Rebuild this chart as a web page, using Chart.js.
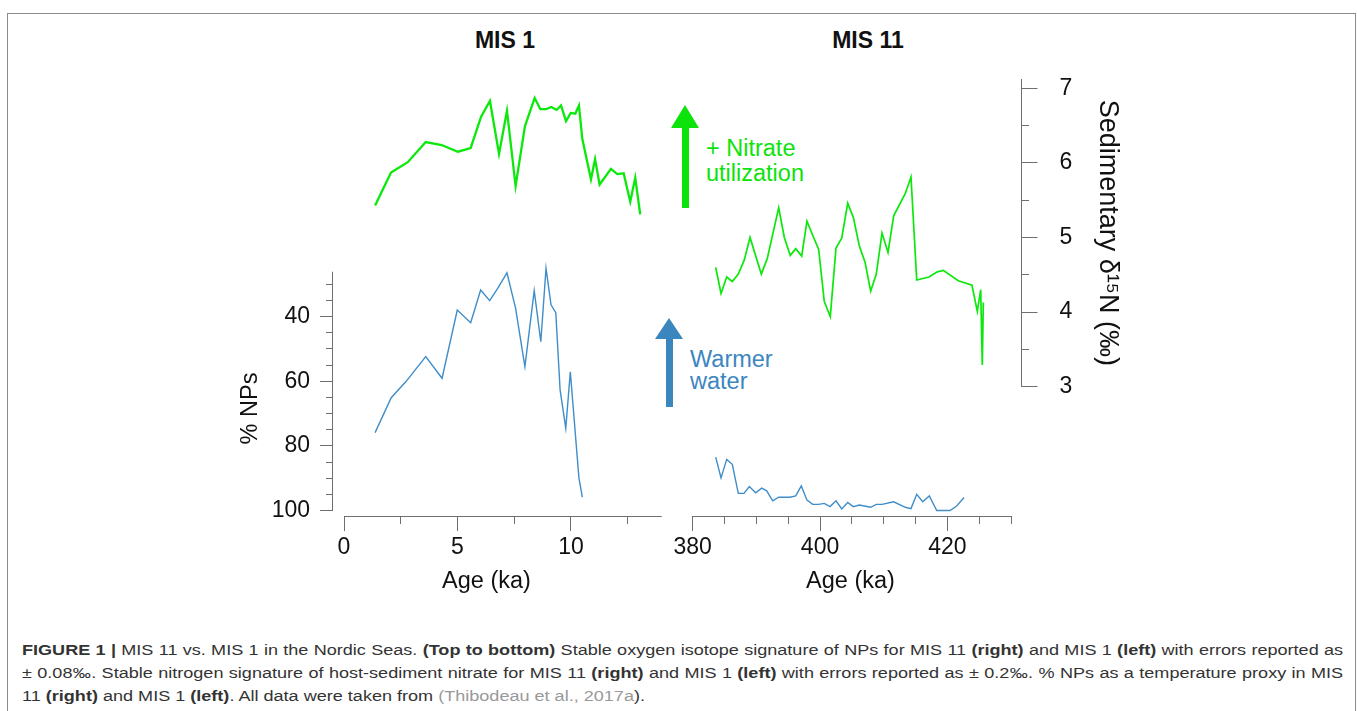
<!DOCTYPE html>
<html lang="en">
<head>
<meta charset="UTF-8">
<title>MIS 11 vs. MIS 1 in the Nordic Seas</title>
<script src="https://cdn.jsdelivr.net/npm/chart.js"></script>
<style>
  body { margin: 0; background: #fff; font-family: "Liberation Sans", Arial, Helvetica, sans-serif; color: #111; }
  #figure { position: relative; width: 1357px; height: 711px; overflow: hidden; }
  #frame { position: absolute; left: 7px; top: 13px; width: 1349px; height: 740px; border: 1px solid #8c8c8c; box-sizing: border-box; }
  canvas { position: absolute; }
  #leftChart { left: 200px; top: 60px; }
  #rightChart { left: 660px; top: 60px; }
  .panel-title { position: absolute; top: 27px; font-weight: bold; font-size: 23px; line-height: 27px; transform: translateX(-50%); white-space: nowrap; }
  .note { position: absolute; font-size: 23.5px; white-space: nowrap; }
  .head { position: absolute; width: 0; height: 0; border-style: solid; border-color: transparent; }
  .shaft { position: absolute; }
  #caption { position: absolute; left: 22px; top: 638px; width: 1134px; font-size: 15.5px; line-height: 23px; color: #333;
             transform: scaleX(1.165); transform-origin: 0 0; }
  #caption div.full { text-align: justify; text-align-last: justify; }
  #caption .ref { color: #999; }
</style>
</head>
<body>
<div id="figure">
  <div id="frame"></div>
  <div class="panel-title" style="left:505px">MIS 1</div>
  <div class="panel-title" style="left:868px">MIS 11</div>

  <!-- green arrow -->
  <div class="head" style="left:671px; top:105px; border-width:0 14px 23px 14px; border-bottom-color:#0be30b"></div>
  <div class="shaft" style="left:681.5px; top:127px; width:7px; height:81px; background:#0be30b"></div>
  <div class="note" style="left:706px; top:136px; line-height:25px; color:#0be30b">+ Nitrate<br>utilization</div>

  <!-- blue arrow -->
  <div class="head" style="left:655px; top:318px; border-width:0 14px 21px 14px; border-bottom-color:#3c86bf"></div>
  <div class="shaft" style="left:665.5px; top:338px; width:7px; height:69px; background:#3c86bf"></div>
  <div class="note" style="left:690px; top:347.5px; line-height:22px; color:#3c86bf">Warmer<br>water</div>

  <canvas id="leftChart" width="470" height="540"></canvas>
  <canvas id="rightChart" width="480" height="540"></canvas>

  <div id="caption">
    <div class="full"><b>FIGURE 1 |</b> MIS 11 vs. MIS 1 in the Nordic Seas. <b>(Top to bottom)</b> Stable oxygen isotope signature of NPs for MIS 11 <b>(right)</b> and MIS 1 <b>(left)</b> with errors reported as</div>
    <div class="full">± 0.08‰. Stable nitrogen signature of host-sediment nitrate for MIS 11 <b>(right)</b> and MIS 1 <b>(left)</b> with errors reported as ± 0.2‰. % NPs as a temperature proxy in MIS</div>
    <div>11 <b>(right)</b> and MIS 1 <b>(left)</b>. All data were taken from <span class="ref">(Thibodeau et al., 2017a</span>).</div>
  </div>
</div>

<script>
  // MIS 1 (left panel), age in ka
  const mis1NAge = [1.37, 2.07, 2.81, 3.60, 4.30, 5.02, 5.58, 6.04, 6.43, 6.83, 7.18, 7.56, 7.97, 8.40, 8.65, 8.90, 9.13, 9.37, 9.56, 9.78, 9.99, 10.19, 10.35, 10.50, 10.88, 11.06, 11.26, 11.76, 12.04, 12.32, 12.61, 12.83, 13.05];
  const mis1N = [5.43, 5.87, 6.01, 6.28, 6.24, 6.15, 6.20, 6.62, 6.83, 6.12, 6.70, 5.69, 6.49, 6.87, 6.72, 6.72, 6.75, 6.71, 6.77, 6.56, 6.67, 6.66, 6.77, 6.32, 5.78, 6.05, 5.71, 5.92, 5.85, 5.86, 5.48, 5.80, 5.31];
  const mis1NpAge = [1.37, 2.08, 2.72, 3.60, 4.32, 4.99, 5.58, 6.02, 6.42, 6.77, 7.18, 7.56, 7.97, 8.38, 8.67, 8.90, 9.12, 9.33, 9.52, 9.77, 9.97, 10.35, 10.50];
  const mis1Np = [75.9, 65.1, 60.2, 52.4, 59.1, 38.0, 41.9, 31.8, 35.1, 31.3, 26.5, 37.5, 55.5, 32.0, 47.8, 25.1, 36.4, 38.8, 62.7, 74.6, 57.1, 90.0, 95.9];

  // MIS 11 (right panel)
  const mis11NAge = [383.61, 384.45, 385.34, 386.22, 387.16, 388.11, 389.00, 390.78, 391.72, 393.51, 394.39, 395.33, 396.18, 397.12, 397.95, 398.85, 399.79, 400.67, 401.61, 402.51, 403.41, 404.35, 405.23, 406.17, 407.07, 407.96, 408.84, 409.74, 410.68, 411.57, 413.40, 414.29, 415.19, 417.12, 418.42, 419.37, 421.72, 423.87, 424.71, 425.24, 425.49, 425.65];
  const mis11N = [4.60, 4.25, 4.47, 4.41, 4.51, 4.70, 5.00, 4.51, 4.72, 5.40, 5.00, 4.76, 4.85, 4.75, 5.22, 5.03, 4.84, 4.14, 3.94, 4.86, 4.99, 5.46, 5.27, 4.89, 4.67, 4.28, 4.51, 5.06, 4.80, 5.29, 5.59, 5.81, 4.43, 4.47, 4.54, 4.56, 4.42, 4.36, 4.01, 4.30, 3.29, 4.13];
  const mis11NpAge = [383.61, 384.45, 385.34, 386.22, 387.16, 388.06, 388.89, 389.90, 390.84, 391.62, 392.57, 393.51, 395.28, 396.18, 397.06, 397.95, 398.85, 399.79, 400.67, 401.57, 402.51, 403.41, 404.35, 405.23, 406.17, 407.96, 408.84, 409.74, 411.57, 413.40, 414.29, 415.19, 416.13, 417.17, 418.33, 420.42, 421.47, 422.62];
  const mis11Np = [83.5, 89.9, 84.2, 85.7, 94.7, 94.7, 92.6, 94.5, 93.1, 93.9, 97.0, 95.9, 95.9, 95.5, 92.4, 96.8, 98.1, 98.1, 97.8, 98.8, 97.0, 99.5, 97.5, 98.8, 98.3, 99.0, 98.1, 98.1, 97.3, 99.0, 99.4, 95.0, 97.3, 95.5, 100, 100, 98.6, 96.0];

  // tick marks (labels only on some of them)
  const ageTicksMis1 = [0, 2.5, 5, 7.5, 10, 12.5];
  const ageTicksMis11 = [380, 385, 390, 395, 400, 405, 410, 415, 420, 425, 430];
  const npTicks = [30, 35, 40, 45, 50, 55, 60, 65, 70, 75, 80, 85, 90, 95, 100];
  const d15nTicks = [3, 3.5, 4, 4.5, 5, 5.5, 6, 6.5, 7];

  const GREEN = '#0be80b';
  const BLUE = '#3f8dc9';
  const AXIS = '#6f6f6f';
  const FONT = '"Liberation Sans", Arial, Helvetica, sans-serif';

  Chart.defaults.font.family = FONT;
  Chart.defaults.color = '#111';

  const pts = (xs, ys) => xs.map((x, i) => ({x: x, y: ys[i]}));
  const setTicks = list => scale => { scale.ticks = list.map(v => ({value: v})); };
  // fixed box size, and no extra room asked for the end labels
  const fixWidth = w => s => { s.width = w; s.paddingTop = 0; s.paddingBottom = 0; };

  // axis lines drawn over a value range only (floating axes)
  const axisLines = {
    id: 'axisLines',
    afterDraw(chart, args, opts) {
      const ctx = chart.ctx;
      ctx.save();
      ctx.strokeStyle = AXIS;
      ctx.lineWidth = 1;
      opts.lines.forEach(l => {
        const s = chart.scales[l.scale];
        const a = s.getPixelForValue(l.from);
        const b = s.getPixelForValue(l.to);
        ctx.beginPath();
        if (s.isHorizontal()) {
          const y = Math.round(s.top) + 0.5;
          ctx.moveTo(a, y); ctx.lineTo(b, y);
        } else {
          const x = s.position === 'left' ? Math.round(s.right) - 0.5 : Math.round(s.left) + 0.5;
          ctx.moveTo(x, a); ctx.lineTo(x, b);
        }
        ctx.stroke();
      });
      ctx.restore();
    }
  };

  function ageAxis(min, max, list, major, labelEvery) {
    return {
      type: 'linear', position: 'bottom', min: min, max: max,
      afterBuildTicks: setTicks(list),
      afterFit: s => { s.height = 84; s.paddingLeft = 0; s.paddingRight = 0; },
      border: {display: false},
      grid: {
        drawOnChartArea: false, tickLength: 15, color: AXIS, tickColor: AXIS,
        tickBorderDash: c => (c.tick && c.tick.value % major === 0) ? [] : [8, 100]
      },
      ticks: {
        autoSkip: false, maxRotation: 0, padding: 3, font: {size: 23},
        callback: v => v % labelEvery === 0 ? String(v) : ''
      },
      title: {display: true, text: 'Age (ka)', font: {size: 23.5}, padding: {top: 0, bottom: 4}}
    };
  }

  const lineOpts = {pointRadius: 0, tension: 0, clip: false, fill: false};

  // left panel: MIS 1
  new Chart(document.getElementById('leftChart'), {
    type: 'line',
    data: {
      datasets: [
        Object.assign({label: 'δ15N MIS 1', data: pts(mis1NAge, mis1N), borderColor: GREEN, borderWidth: 2.3, yAxisID: 'yN'}, lineOpts),
        Object.assign({label: '% NPs MIS 1', data: pts(mis1NpAge, mis1Np), borderColor: BLUE, borderWidth: 1.4, yAxisID: 'yP'}, lineOpts)
      ]
    },
    options: {
      responsive: false, animation: false, events: [],
      layout: {padding: {left: 28, right: 30, top: 19, bottom: 0}},
      plugins: {
        legend: {display: false}, tooltip: {enabled: false},
        axisLines: {lines: [{scale: 'x', from: 0, to: 14}, {scale: 'yP', from: 26.14, to: 100}]}
      },
      scales: {
        x: ageAxis(-0.4846, 13.04, ageTicksMis1, 5, 5),
        yN: {type: 'linear', display: false, min: 1.2667, max: 7.1247, weight: 0},
        yP: {
          type: 'linear', position: 'left', stack: 'np', stackWeight: 244.3, weight: 1,
          reverse: true, min: 26.14, max: 101.70,
          afterBuildTicks: setTicks(npTicks),
          afterFit: fixWidth(65),
          border: {display: false},
          grid: {
            drawOnChartArea: false, tickLength: 13, color: AXIS, tickColor: AXIS,
            tickBorderDash: c => (c.tick && c.tick.value % 20 === 0) ? [] : [0, 6, 7, 100]
          },
          ticks: {autoSkip: false, padding: 10, font: {size: 23}, callback: v => v % 20 === 0 ? String(v) : ''}
        },
        ySpacerP: {type: 'linear', position: 'left', stack: 'np', stackWeight: 192.7, weight: 1, display: false},
        yTitle: {
          type: 'linear', position: 'left', stack: 'tt', stackWeight: 215, weight: 2,
          afterFit: fixWidth(40),
          border: {display: false}, grid: {display: false}, ticks: {display: false},
          title: {display: true, text: '% NPs', font: {size: 23.5}, padding: {top: 8, bottom: 0}}
        },
        ySpacerT: {type: 'linear', position: 'left', stack: 'tt', stackWeight: 222, weight: 2, display: false}
      }
    },
    plugins: [axisLines]
  });

  // right panel: MIS 11
  new Chart(document.getElementById('rightChart'), {
    type: 'line',
    data: {
      datasets: [
        Object.assign({label: 'δ15N MIS 11', data: pts(mis11NAge, mis11N), borderColor: GREEN, borderWidth: 1.7, yAxisID: 'yN'}, lineOpts),
        Object.assign({label: '% NPs MIS 11', data: pts(mis11NpAge, mis11Np), borderColor: BLUE, borderWidth: 1.4, yAxisID: 'yP'}, lineOpts)
      ]
    },
    options: {
      responsive: false, animation: false, events: [],
      layout: {padding: {left: 20, right: 15, top: 19, bottom: 0}},
      plugins: {
        legend: {display: false}, tooltip: {enabled: false},
        axisLines: {lines: [{scale: 'x', from: 380, to: 430}, {scale: 'yN', from: 3, to: 7.1247}]}
      },
      scales: {
        x: ageAxis(378.005, 431.57, ageTicksMis11, 20, 20),
        yP: {type: 'linear', display: false, reverse: true, min: -33.45, max: 101.70},
        yN: {
          type: 'linear', position: 'right', stack: 'n', stackWeight: 307.7, weight: 1,
          min: 3, max: 7.1247,
          afterBuildTicks: setTicks(d15nTicks),
          afterFit: fixWidth(104),
          border: {display: false},
          grid: {
            drawOnChartArea: false, tickLength: 16.5, color: AXIS, tickColor: AXIS,
            tickBorderDash: c => (c.tick && Number.isInteger(c.tick.value)) ? [] : [8, 100]
          },
          ticks: {autoSkip: false, padding: 22, font: {size: 23}, callback: v => Number.isInteger(v) ? String(v) : ''},
          title: {display: true, text: 'Sedimentary δ¹⁵N (‰)', font: {size: 27}, padding: {top: 1, bottom: 0}}
        },
        ySpacerN: {type: 'linear', position: 'right', stack: 'n', stackWeight: 129.3, weight: 1, display: false}
      }
    },
    plugins: [axisLines]
  });
</script>
</body>
</html>
